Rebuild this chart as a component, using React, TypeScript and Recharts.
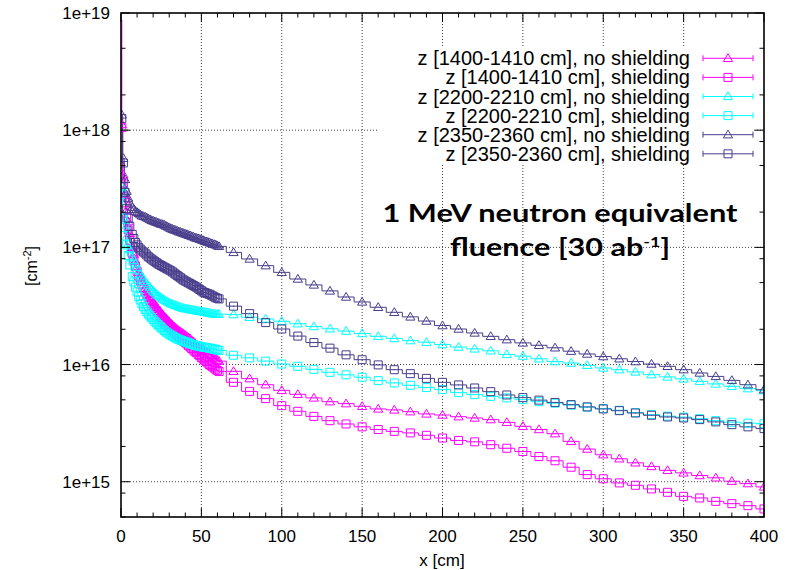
import React from 'react';
import { LineChart, Line, XAxis, YAxis, ReferenceLine } from 'recharts';

// x positions of the bins [cm]
const xCm = [
  0.5, 1.5, 2.5, 3.5, 4.5, 5.5,
  7, 8, 9, 10, 11, 12, 13, 14, 15, 16, 17, 18, 19, 20, 21, 22, 23, 24, 25, 26, 27, 28, 29, 30, 31, 32, 33, 34,
  35, 36, 37, 38, 39, 40, 41, 42, 43, 44, 45, 46, 47, 48, 49, 50, 51, 52, 53, 54, 55, 56, 57, 58, 59, 60, 61,
  70, 80, 90, 100, 110, 120, 130, 140, 150, 160, 170, 180, 190, 200, 210, 220, 230, 240, 250, 260, 270, 280, 290, 300, 310, 320, 330, 340, 350, 360, 370, 380, 390, 400,
];

const z1400NoShield = [
  1.12e18, 4.17e17, 2.82e17, 2.09e17, 1.66e17, 1.32e17,
  1.0e17, 8.7e16, 7.59e16, 6.85e16, 6.17e16, 5.62e16, 5.13e16, 4.78e16, 4.47e16, 4.21e16, 3.98e16, 3.76e16, 3.55e16, 3.39e16, 3.24e16, 3.09e16, 2.95e16, 2.85e16, 2.75e16, 2.66e16, 2.57e16, 2.48e16, 2.4e16, 2.32e16, 2.24e16, 2.17e16, 2.11e16, 2.05e16,
  2.0e16, 1.95e16, 1.91e16, 1.86e16, 1.82e16, 1.78e16, 1.74e16, 1.7e16, 1.66e16, 1.61e16, 1.57e16, 1.52e16, 1.48e16, 1.44e16, 1.41e16, 1.38e16, 1.35e16, 1.32e16, 1.29e16, 1.26e16, 1.23e16, 1.2e16, 1.17e16, 1.14e16, 1.12e16, 1.09e16, 1.07e16,
  8.75e15, 7.58e15, 6.73e15, 6.02e15, 5.57e15, 5.19e15, 4.82e15, 4.64e15, 4.4e15, 4.18e15, 4.1e15, 3.96e15, 3.79e15, 3.71e15, 3.59e15, 3.5e15, 3.39e15, 3.21e15, 2.97e15, 2.79e15, 2.57e15, 2.21e15, 1.9e15, 1.7e15, 1.57e15, 1.45e15, 1.35e15, 1.25e15, 1.19e15, 1.13e15, 1.08e15, 1.01e15, 9.64e14, 9.03e14,
];
const z1400Shield = [
  1.05e18, 3.55e17, 2.4e17, 1.78e17, 1.41e17, 1.15e17,
  8.91e16, 7.85e16, 6.92e16, 6.24e16, 5.62e16, 5.19e16, 4.79e16, 4.47e16, 4.17e16, 3.94e16, 3.72e16, 3.51e16, 3.31e16, 3.16e16, 3.02e16, 2.88e16, 2.75e16, 2.63e16, 2.51e16, 2.42e16, 2.34e16, 2.26e16, 2.19e16, 2.11e16, 2.04e16, 1.97e16, 1.91e16, 1.84e16,
  1.78e16, 1.73e16, 1.68e16, 1.63e16, 1.58e16, 1.54e16, 1.5e16, 1.45e16, 1.41e16, 1.37e16, 1.33e16, 1.29e16, 1.26e16, 1.22e16, 1.19e16, 1.15e16, 1.12e16, 1.09e16, 1.06e16, 1.03e16, 1.0e16, 9.78e15, 9.55e15, 9.33e15, 9.12e15, 8.91e15, 8.71e15,
  7.05e15, 5.9e15, 5.12e15, 4.46e15, 3.99e15, 3.61e15, 3.32e15, 3.11e15, 2.94e15, 2.79e15, 2.69e15, 2.61e15, 2.49e15, 2.36e15, 2.25e15, 2.19e15, 2.07e15, 1.93e15, 1.81e15, 1.64e15, 1.51e15, 1.33e15, 1.15e15, 1.06e15, 9.77e14, 9.32e14, 8.68e14, 8.12e14, 7.5e14, 7.27e14, 6.8e14, 6.5e14, 6.25e14, 5.86e14,
];
const z2200NoShield = [
  3.31e17, 1.82e17, 1.45e17, 1.23e17, 1.07e17, 9.55e16,
  8.32e16, 7.76e16, 7.24e16, 6.76e16, 6.31e16, 5.95e16, 5.62e16, 5.37e16, 5.13e16, 4.92e16, 4.73e16, 4.55e16, 4.37e16, 4.24e16, 4.12e16, 4.0e16, 3.89e16, 3.8e16, 3.72e16, 3.63e16, 3.55e16, 3.49e16, 3.43e16, 3.37e16, 3.31e16, 3.27e16, 3.24e16, 3.2e16,
  3.16e16, 3.12e16, 3.09e16, 3.05e16, 3.02e16, 3.0e16, 2.99e16, 2.97e16, 2.95e16, 2.93e16, 2.92e16, 2.9e16, 2.88e16, 2.86e16, 2.85e16, 2.83e16, 2.82e16, 2.8e16, 2.79e16, 2.77e16, 2.75e16, 2.73e16, 2.72e16, 2.7e16, 2.69e16, 2.69e16, 2.69e16,
  2.67e16, 2.53e16, 2.45e16, 2.34e16, 2.23e16, 2.11e16, 2.02e16, 1.93e16, 1.84e16, 1.74e16, 1.67e16, 1.6e16, 1.55e16, 1.48e16, 1.41e16, 1.36e16, 1.31e16, 1.22e16, 1.18e16, 1.12e16, 1.06e16, 1.03e16, 9.85e15, 9.35e15, 9.04e15, 8.65e15, 8.2e15, 7.84e15, 7.54e15, 7.19e15, 6.83e15, 6.52e15, 6.23e15, 5.99e15,
];
const z2200Shield = [
  2.82e17, 1.78e17, 1.48e17, 1.05e17, 8.51e16, 7.08e16,
  5.62e16, 5.07e16, 4.57e16, 4.17e16, 3.8e16, 3.55e16, 3.31e16, 3.12e16, 2.95e16, 2.82e16, 2.69e16, 2.6e16, 2.51e16, 2.42e16, 2.34e16, 2.26e16, 2.19e16, 2.13e16, 2.07e16, 2.01e16, 1.95e16, 1.9e16, 1.86e16, 1.82e16, 1.78e16, 1.75e16, 1.72e16, 1.69e16,
  1.66e16, 1.64e16, 1.62e16, 1.6e16, 1.58e16, 1.56e16, 1.55e16, 1.53e16, 1.51e16, 1.49e16, 1.48e16, 1.46e16, 1.45e16, 1.44e16, 1.43e16, 1.42e16, 1.41e16, 1.4e16, 1.4e16, 1.39e16, 1.38e16, 1.37e16, 1.36e16, 1.35e16, 1.35e16, 1.33e16, 1.32e16,
  1.2e16, 1.14e16, 1.07e16, 1.01e16, 9.66e15, 9.1e15, 8.58e15, 8.17e15, 7.8e15, 7.29e15, 6.97e15, 6.65e15, 6.36e15, 6.11e15, 5.76e15, 5.54e15, 5.35e15, 5.19e15, 5.02e15, 4.82e15, 4.68e15, 4.51e15, 4.33e15, 4.21e15, 4.07e15, 3.89e15, 3.74e15, 3.63e15, 3.56e15, 3.45e15, 3.32e15, 3.22e15, 3.16e15, 3.13e15,
];
const z2350NoShield = [
  1.35e18, 5.75e17, 3.8e17, 3.02e17, 2.63e17, 2.4e17,
  2.19e17, 2.11e17, 2.04e17, 1.99e17, 1.95e17, 1.9e17, 1.86e17, 1.84e17, 1.82e17, 1.79e17, 1.76e17, 1.73e17, 1.7e17, 1.68e17, 1.66e17, 1.64e17, 1.62e17, 1.6e17, 1.58e17, 1.57e17, 1.55e17, 1.52e17, 1.5e17, 1.47e17, 1.45e17, 1.43e17, 1.41e17, 1.4e17,
  1.38e17, 1.36e17, 1.35e17, 1.33e17, 1.32e17, 1.3e17, 1.29e17, 1.27e17, 1.26e17, 1.24e17, 1.23e17, 1.21e17, 1.2e17, 1.19e17, 1.175e17, 1.16e17, 1.15e17, 1.13e17, 1.12e17, 1.11e17, 1.1e17, 1.08e17, 1.07e17, 1.06e17, 1.05e17, 1.03e17, 1.02e17,
  9.06e16, 7.96e16, 6.98e16, 6.12e16, 5.37e16, 4.78e16, 4.25e16, 3.77e16, 3.42e16, 3.08e16, 2.79e16, 2.55e16, 2.35e16, 2.15e16, 2.01e16, 1.86e16, 1.74e16, 1.63e16, 1.53e16, 1.46e16, 1.39e16, 1.3e16, 1.23e16, 1.17e16, 1.12e16, 1.06e16, 1.01e16, 9.66e15, 9.04e15, 8.47e15, 7.92e15, 7.33e15, 6.73e15, 6.1e15,
];
const z2350Shield = [
  1.26e18, 5.25e17, 2.95e17, 2.14e17, 1.78e17, 1.51e17,
  1.29e17, 1.19e17, 1.1e17, 1.05e17, 1.0e17, 9.66e16, 9.33e16, 9.12e16, 8.91e16, 8.61e16, 8.32e16, 8.13e16, 7.94e16, 7.76e16, 7.59e16, 7.41e16, 7.24e16, 7.12e16, 7.0e16, 6.88e16, 6.76e16, 6.64e16, 6.53e16, 6.42e16, 6.31e16, 6.17e16, 6.03e16, 5.89e16,
  5.75e16, 5.62e16, 5.5e16, 5.37e16, 5.25e16, 5.16e16, 5.07e16, 4.98e16, 4.9e16, 4.81e16, 4.73e16, 4.65e16, 4.57e16, 4.47e16, 4.37e16, 4.27e16, 4.17e16, 4.12e16, 4.07e16, 4.02e16, 3.98e16, 3.91e16, 3.85e16, 3.78e16, 3.72e16, 3.67e16, 3.63e16,
  3.15e16, 2.72e16, 2.28e16, 2.01e16, 1.75e16, 1.54e16, 1.38e16, 1.21e16, 1.1e16, 9.93e15, 9.04e15, 8.36e15, 7.62e15, 7.05e15, 6.7e15, 6.31e15, 5.87e15, 5.5e15, 5.22e15, 4.97e15, 4.75e15, 4.55e15, 4.35e15, 4.18e15, 4.04e15, 3.86e15, 3.69e15, 3.57e15, 3.5e15, 3.39e15, 3.24e15, 3.07e15, 2.94e15, 2.84e15,
];

// upper end of the first-bin error bar of the z 1400 series
const firstBinErrorTop = 8.8e18;

const xTicks = [0, 10, 20, 30, 40, 50, 60, 70, 80, 90, 100, 110, 120, 130, 140, 150, 160, 170, 180, 190, 200, 210, 220, 230, 240, 250, 260, 270, 280, 290, 300, 310, 320, 330, 340, 350, 360, 370, 380, 390, 400];
const xGrid = [50, 100, 150, 200, 250, 300, 350];
const yTicks = [5e14, 8e14, 1e15, 2e15, 5e15, 8e15, 1e16, 2e16, 5e16, 8e16, 1e17, 2e17, 5e17, 8e17, 1e18, 2e18, 5e18, 1e19];
const yGrid = [1e15, 1e16, 1e17, 1e18];

const series = [
  { key: 'a', label: 'z [1400-1410 cm], no shielding', values: z1400NoShield, color: '#ff00ff', shape: 'tri' },
  { key: 'b', label: 'z [1400-1410 cm], shielding', values: z1400Shield, color: '#ff00ff', shape: 'sq' },
  { key: 'c', label: 'z [2200-2210 cm], no shielding', values: z2200NoShield, color: '#00ffff', shape: 'tri' },
  { key: 'd', label: 'z [2200-2210 cm], shielding', values: z2200Shield, color: '#00ffff', shape: 'sq' },
  { key: 'e', label: 'z [2350-2360 cm], no shielding', values: z2350NoShield, color: '#483d8b', shape: 'tri' },
  { key: 'f', label: 'z [2350-2360 cm], shielding', values: z2350Shield, color: '#483d8b', shape: 'sq' },
];

const rows = xCm.map((x, i) => {
  const r: any = { x };
  series.forEach((s) => {
    if (s.values[i] !== undefined) r[s.key] = s.values[i];
  });
  return r;
});

const W = 793;
const H = 570;
const PLOT = { left: 121, right: 764, top: 13, bottom: 517 };
const FONT = '"Liberation Sans", Arial, Helvetica, sans-serif';

function markerPath(shape: string, cx: number, cy: number) {
  if (shape === 'tri') {
    return `M${cx},${cy - 4.6} L${cx + 4.6},${cy + 3.2} L${cx - 4.6},${cy + 3.2} Z`;
  }
  return `M${cx - 4},${cy - 4} H${cx + 4} V${cy + 4} H${cx - 4} Z`;
}

function makeDot(shape: string, color: string) {
  return (p: any) => {
    const { cx, cy, index } = p;
    if (cx == null || cy == null || isNaN(cx) || isNaN(cy)) return <g key={`n${index}`} />;
    return (
      <g key={`d${index}`}>
        <path d={markerPath(shape, cx, cy)} fill="none" stroke={color} strokeWidth={1} />
        <rect x={cx - 0.5} y={cy - 0.5} width={1} height={1} fill={color} />
      </g>
    );
  };
}

const XTick = (p: any) => {
  const { x, payload } = p;
  const v = payload.value;
  const major = v % 50 === 0;
  const len = major ? 9 : 4.5;
  return (
    <g>
      <line x1={x} x2={x} y1={PLOT.bottom} y2={PLOT.bottom - len} stroke="#000" strokeWidth={1} />
      <line x1={x} x2={x} y1={PLOT.top} y2={PLOT.top + len} stroke="#000" strokeWidth={1} />
      {major && (
        <text x={x} y={PLOT.bottom + 25} textAnchor="middle" fontFamily={FONT} fontSize={17} fill="#000">
          {v}
        </text>
      )}
    </g>
  );
};

const YTick = (p: any) => {
  const { y, payload } = p;
  const v = payload.value;
  const lg = Math.log10(v);
  const major = Math.abs(lg - Math.round(lg)) < 1e-6;
  const len = major ? 9 : 4.5;
  return (
    <g>
      <line x1={PLOT.left} x2={PLOT.left + len} y1={y} y2={y} stroke="#000" strokeWidth={1} />
      <line x1={PLOT.right} x2={PLOT.right - len} y1={y} y2={y} stroke="#000" strokeWidth={1} />
      {major && (
        <text x={110} y={y + 6} textAnchor="end" fontFamily={FONT} fontSize={17} fill="#000">
          {`1e+${Math.round(lg)}`}
        </text>
      )}
    </g>
  );
};

const legendTop = 58.3;
const legendStep = 19.1;

export default function App() {
  return (
    <div style={{ position: 'absolute', left: 0, top: 0, width: W, height: H, background: '#fff' }}>
      <LineChart
        width={W}
        height={H}
        data={rows}
        margin={{ top: PLOT.top, right: W - PLOT.right, bottom: H - PLOT.bottom - 30, left: 0 }}
      >
        <XAxis
          dataKey="x"
          type="number"
          domain={[0, 400]}
          ticks={xTicks}
          interval={0}
          tick={(p: any) => <XTick {...p} />}
          tickLine={false}
          axisLine={false}
          height={30}
          allowDataOverflow
        />
        <YAxis
          type="number"
          scale="log"
          domain={[5e14, 1e19]}
          ticks={yTicks}
          interval={0}
          tick={(p: any) => <YTick {...p} />}
          tickLine={false}
          axisLine={false}
          width={PLOT.left}
          allowDataOverflow
        />
        {xGrid.map((g) => (
          <ReferenceLine key={`gx${g}`} x={g} stroke="#444" strokeWidth={1} strokeDasharray="1 2" />
        ))}
        {yGrid.map((g) => (
          <ReferenceLine key={`gy${g}`} y={g} stroke="#444" strokeWidth={1} strokeDasharray="1 2" />
        ))}
        <ReferenceLine
          segment={[
            { x: xCm[0], y: z1400NoShield[0] },
            { x: xCm[0], y: firstBinErrorTop },
          ]}
          stroke="#ff00ff"
          strokeWidth={1}
        />
        {series.map((s) => (
          <Line
            key={s.key}
            dataKey={s.key}
            type="step"
            stroke={s.color}
            strokeWidth={1}
            dot={makeDot(s.shape, s.color)}
            activeDot={false}
            isAnimationActive={false}
            connectNulls
          />
        ))}
      </LineChart>
      <svg
        width={W}
        height={H}
        style={{ position: 'absolute', left: 0, top: 0, pointerEvents: 'none' }}
      >
        <rect x={378} y={48} width={376} height={117} fill="#fff" />
        {series.map((s, i) => {
          const cy = legendTop + i * legendStep;
          return (
            <g key={`lg${s.key}`}>
              <text x={690} y={cy + 7} textAnchor="end" fontFamily={FONT} fontSize={20} fill="#000">
                {s.label}
              </text>
              <line x1={703} x2={753} y1={cy} y2={cy} stroke={s.color} strokeWidth={1} />
              <line x1={703} x2={703} y1={cy - 3} y2={cy + 3} stroke={s.color} strokeWidth={1} />
              <line x1={753} x2={753} y1={cy - 3} y2={cy + 3} stroke={s.color} strokeWidth={1} />
              <path d={markerPath(s.shape, 728, cy)} fill="none" stroke={s.color} strokeWidth={1} />
            </g>
          );
        })}
        <rect
          x={PLOT.left}
          y={PLOT.top}
          width={PLOT.right - PLOT.left}
          height={PLOT.bottom - PLOT.top}
          fill="none"
          stroke="#000"
          strokeWidth={1.6}
        />
        <text
          x={560}
          y={222}
          textAnchor="middle"
          fontFamily="Lato, 'Open Sans', sans-serif"
          fontWeight={700}
          fontSize={24}
          textLength={355}
          lengthAdjust="spacingAndGlyphs"
          fill="#000"
        >
          1 MeV neutron equivalent
        </text>
        <text
          x={560}
          y={256}
          textAnchor="middle"
          fontFamily="Lato, 'Open Sans', sans-serif"
          fontWeight={700}
          fontSize={24}
          textLength={220}
          lengthAdjust="spacingAndGlyphs"
          fill="#000"
        >
          fluence [30 ab
          <tspan fontSize={14} dy={-9}>
            -1
          </tspan>
          <tspan dy={9}>]</tspan>
        </text>
        <text x={442} y={566} textAnchor="middle" fontFamily={FONT} fontSize={17} fill="#000">
          x [cm]
        </text>
        <g transform="translate(37,266) rotate(-90)">
          <text x={0} y={0} textAnchor="middle" fontFamily={FONT} fontSize={16} fill="#000">
            [cm
            <tspan fontSize={11} dy={-6}>
              -2
            </tspan>
            <tspan dy={6}>]</tspan>
          </text>
        </g>
      </svg>
    </div>
  );
}
